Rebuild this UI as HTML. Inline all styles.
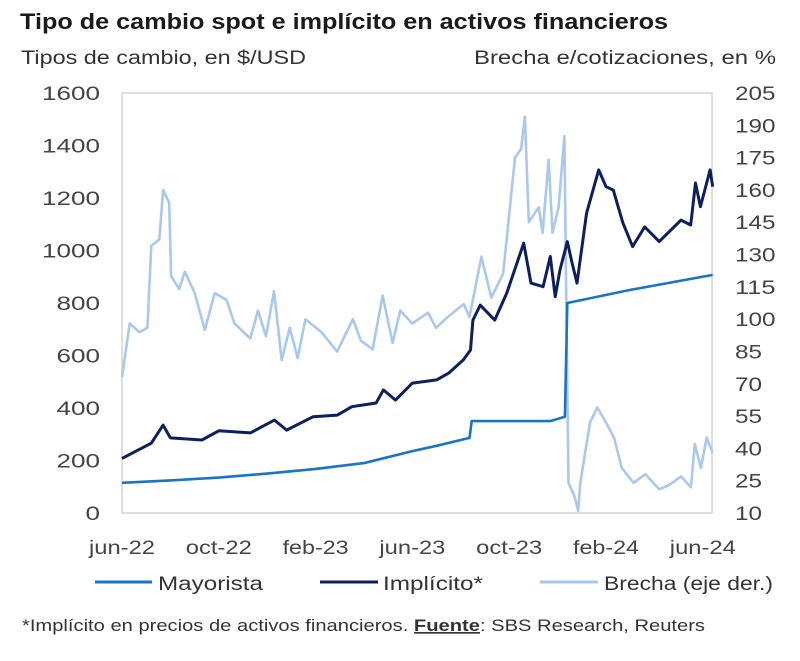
<!DOCTYPE html>
<html><head><meta charset="utf-8">
<style>
html,body{margin:0;padding:0;background:#fff;}
body{width:800px;height:656px;overflow:hidden;font-family:"Liberation Sans",Arial,sans-serif;color:#333;}
svg text{font-family:"Liberation Sans",Arial,sans-serif;}
</style></head>
<body>
<svg id="chart" width="800" height="656" viewBox="0 0 800 656">
  <text x="20" y="29" font-size="22" font-weight="bold" fill="#1a1a1a" textLength="648" lengthAdjust="spacingAndGlyphs">Tipo de cambio spot e implícito en activos financieros</text>
  <text x="21" y="64" font-size="19" fill="#333" textLength="285" lengthAdjust="spacingAndGlyphs">Tipos de cambio, en $/USD</text>
  <text x="474" y="64" font-size="19" fill="#333" textLength="302" lengthAdjust="spacingAndGlyphs">Brecha e/cotizaciones, en %</text>
  <rect x="122" y="93" width="590" height="420" fill="none" stroke="#d4d4d4" stroke-width="1.5"/>
  <g id="ticks"></g>
  <g id="series"></g>
  <g>
    <line x1="95" y1="582" x2="152" y2="582" stroke="#1a74c4" stroke-width="3"/>
    <text x="158" y="590" font-size="19" fill="#333" textLength="105" lengthAdjust="spacingAndGlyphs">Mayorista</text>
    <line x1="320" y1="582" x2="378" y2="582" stroke="#0d1f5c" stroke-width="3"/>
    <text x="383" y="590" font-size="19" fill="#333" textLength="100" lengthAdjust="spacingAndGlyphs">Implícito*</text>
    <line x1="540" y1="582" x2="598" y2="582" stroke="#a9c8ec" stroke-width="3"/>
    <text x="604" y="590" font-size="19" fill="#333" textLength="169" lengthAdjust="spacingAndGlyphs">Brecha (eje der.)</text>
  </g>
  <text x="22" y="631" font-size="16.5" fill="#333" textLength="683" lengthAdjust="spacingAndGlyphs">*Implícito en precios de activos financieros. <tspan font-weight="bold" text-decoration="underline">Fuente</tspan>: SBS Research, Reuters</text>
</svg>
<script>
const leftTicks=[0,200,400,600,800,1000,1200,1400,1600];
const rightTicks=[10,25,40,55,70,85,100,115,130,145,160,175,190,205];
const xTickLabels=["jun-22","oct-22","feb-23","jun-23","oct-23","feb-24","jun-24"];
const xTickMonths=[0,4,8,12,16,20,24];

const mayoristaMonths=[0,2,4,6,8,10,12,13,14.36,14.45,17.7,18.3,18.4,21,24.41];
const mayoristaValues=[115,124,135,150,168,190,236,256,286,350,350,367,800,850,907];

const implicitoMonths=[0,1.21,1.7,2.0,3.3,4.0,5.3,6.3,6.8,7.9,8.9,9.5,10.5,10.8,11.3,12,13.0,13.5,14.1,14.4,14.5,14.8,15.4,15.9,16.6,16.9,17.4,17.7,17.9,18.1,18.4,18.6,18.8,19.2,19.7,20.0,20.3,20.7,21.1,21.6,22.2,23.1,23.5,23.7,23.9,24.3,24.41];
const implicitoValues=[208,266,335,286,278,313,305,354,316,367,373,405,419,469,430,495,507,533,583,621,735,792,735,838,1028,876,862,977,824,926,1034,952,876,1143,1307,1243,1230,1105,1015,1090,1034,1116,1097,1257,1167,1307,1243];

const brechaMonths=[0,0.32,0.72,1.05,1.21,1.54,1.70,1.95,2.03,2.36,2.60,3.01,3.42,3.83,4.32,4.65,5.30,5.62,5.95,6.28,6.60,6.93,7.26,7.58,8.24,8.89,9.54,9.87,10.36,10.77,11.18,11.50,11.99,12.65,12.97,13.46,14.12,14.36,14.85,15.26,15.75,16.24,16.49,16.65,16.81,17.22,17.38,17.63,17.79,18.04,18.28,18.36,18.45,18.69,18.85,18.94,19.34,19.64,20.0,20.33,20.65,21.14,21.63,22.2,22.61,23.1,23.51,23.67,23.92,24.16,24.41];
const brechaValues=[73,98,94,96,134,137,160,154,120,114,122,112,95,112,109,98,91,104,92,113,81,96,82,100,94,85,100,90,86,111,89,104,98,103,96,101,107,101,129,110,121,175,179,194,145,152,140,174,140,152,185,106,24,18,11,24,52,59,52,45,31,24,28,21,23,27,22,42,31,45,38];

const X0=122,XW=24.2,YB=513,YT=93;
function xs(m){return X0+m*XW;}
function yl(v){return YB-(v/1600)*(YB-YT);}
function yr(v){return YB-((v-10)/195)*(YB-YT);}
const NS="http://www.w3.org/2000/svg";
const tg=document.getElementById('ticks');
leftTicks.forEach(v=>{
  const t=document.createElementNS(NS,'text');
  t.setAttribute('x',100);t.setAttribute('y',yl(v)+7);
  t.setAttribute('text-anchor','end');t.setAttribute('font-size','19');t.setAttribute('fill','#444');
  t.setAttribute('textLength',String(v).length*14.5);t.setAttribute('lengthAdjust','spacingAndGlyphs');
  
  
  t.textContent=v;tg.appendChild(t);
});
rightTicks.forEach(v=>{
  const t=document.createElementNS(NS,'text');
  t.setAttribute('x',735);t.setAttribute('y',yr(v)+7);
  t.setAttribute('font-size','19');t.setAttribute('fill','#444');
  t.setAttribute('textLength',String(v).length*13.5);t.setAttribute('lengthAdjust','spacingAndGlyphs');
  
  
  t.textContent=v;tg.appendChild(t);
});
xTickLabels.forEach((l,i)=>{
  const t=document.createElementNS(NS,'text');
  t.setAttribute('x',xs(xTickMonths[i]));t.setAttribute('y',554);
  t.setAttribute('text-anchor','middle');t.setAttribute('font-size','19');t.setAttribute('fill','#444');
  t.setAttribute('textLength','66');t.setAttribute('lengthAdjust','spacingAndGlyphs');
  
  
  t.textContent=l;tg.appendChild(t);
});
const sg=document.getElementById('series');
function line(ms,vs,yf,color,w,name){
  const p=document.createElementNS(NS,'path');
  p.setAttribute('d',ms.map((m,i)=>(i?'L':'M')+xs(m).toFixed(1)+','+yf(vs[i]).toFixed(1)).join(''));
  p.setAttribute('fill','none');p.setAttribute('stroke',color);p.setAttribute('stroke-width',w);
  p.setAttribute('stroke-linejoin','round');
  
  
  sg.appendChild(p);
}
line(brechaMonths,brechaValues,yr,'#a9c8ec',2.6,'brecha-line');
line(mayoristaMonths,mayoristaValues,yl,'#1a74c4',2.6,'mayorista-line');
line(implicitoMonths,implicitoValues,yl,'#0d1f5c',3,'implicito-line');
</script>
</body></html>
